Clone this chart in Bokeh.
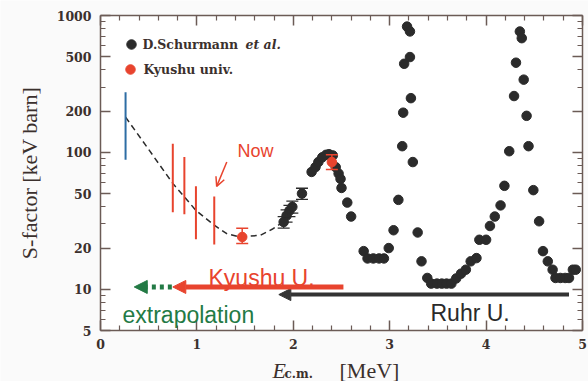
import math
from bokeh.plotting import figure
from bokeh.models import (FixedTicker, LinearAxis, LogAxis, Arrow, NormalHead, OpenHead,
                          Label, Whisker, ColumnDataSource, TeeHead)
from bokeh.embed import file_html
from bokeh.resources import INLINE

# ---------------- data ----------------
sch_E = [1.90, 1.93, 1.96, 1.99, 2.09, 2.19, 2.23, 2.26, 2.30, 2.34, 2.37, 2.41, 2.44, 2.47,
         2.49, 2.50, 2.56, 2.60, 2.73, 2.77, 2.83, 2.89, 2.94, 2.99, 3.04, 3.09, 3.13, 3.14,
         3.15, 3.18, 3.21, 3.21, 3.22, 3.24, 3.29, 3.33, 3.39, 3.43, 3.49, 3.54, 3.59, 3.64,
         3.69, 3.74, 3.79, 3.84, 3.90, 3.93, 4.00, 4.04, 4.09, 4.15, 4.19, 4.24, 4.29, 4.31,
         4.35, 4.37, 4.39, 4.42, 4.44, 4.49, 4.55, 4.59, 4.64, 4.69, 4.72, 4.77, 4.82, 4.86,
         4.90, 4.93]
sch_S = [31, 34.5, 37.5, 40, 50, 72, 78, 85, 92, 96, 97, 95, 78, 70,
         64, 55, 43, 34, 19, 16.8, 16.8, 16.8, 16.8, 20, 27, 45, 111, 195,
         444, 830, 765, 497, 249, 85, 26, 16, 12.1, 11, 11, 11, 11, 11,
         12, 13, 13.9, 16, 16.9, 23, 23, 29, 34, 41, 57, 102, 258, 452,
         764, 683, 340, 185, 111, 53, 31.4, 19, 16, 13.9, 12.1, 12.1, 12.1, 12.1,
         13.9, 13.9]
sch_err_E = [1.90, 1.93, 1.96, 1.99, 2.09]
sch_err_lo = [28, 31, 34, 36, 45.3]
sch_err_hi = [34, 38, 41, 44, 54.7]

ky_E = [1.47, 2.40]
ky_S = [24.1, 85.0]
ky_lo = [21.6, 75.0]
ky_hi = [27.9, 96.0]

blue_E = [0.26]
blue_lo = [88.5]
blue_hi = [275.0]

proj_E = [0.75, 0.87, 0.99, 1.18]
proj_lo = [36.6, 35.3, 23.2, 21.2]
proj_hi = [115.6, 92.4, 56.5, 47.7]

curve_E = [0.26, 0.50, 0.75, 0.99, 1.18, 1.31, 1.45, 1.66, 1.79, 1.88]
curve_S = [181, 105, 59.4, 37.7, 29.4, 25.5, 24.1, 24.8, 27.7, 30.5]

ruhr_E = [4.86, 1.85]
ruhr_S = 9.15
kyu_arrow_E = [2.52, 0.75]
kyu_arrow_S = 10.4
extrap_E = [0.74, 0.35]
extrap_S = 10.4
now_E = [1.31, 1.205]
now_S = [85.0, 56.5]

x_ticks = [0, 1, 2, 3, 4, 5]
x_tick_labels = ["0", "1", "2", "3", "4", "5"]
x_minor = [0.2, 0.4, 0.6, 0.8, 1.2, 1.4, 1.6, 1.8, 2.2, 2.4, 2.6, 2.8,
           3.2, 3.4, 3.6, 3.8, 4.2, 4.4, 4.6, 4.8]
y_ticks = [5, 10, 20, 50, 100, 200, 500, 1000]
y_tick_labels = ["5", "10", "20", "50", "100", "200", "500", "1000"]
y_minor = [6, 7, 8, 9, 30, 40, 60, 70, 80, 90, 300, 400, 600, 700, 800, 900]

X_LO, X_HI = 0, 5
Y_LO, Y_HI = 5, 1000

# ---------------- layout (frame = whole canvas, box drawn with fixed axes) ----------------
W, H = 588, 381
BOX_L, BOX_R, BOX_T, BOX_B = 100, 582, 15, 330
xs = (BOX_R - BOX_L) / (X_HI - X_LO)
x_range = (X_LO - BOX_L / xs, X_HI + (W - BOX_R) / xs)
dec = (BOX_B - BOX_T) / (math.log10(Y_HI) - math.log10(Y_LO))
y_range = (10 ** (math.log10(Y_LO) - (H - BOX_B) / dec), 10 ** (math.log10(Y_HI) + BOX_T / dec))


def dx(px):
    return x_range[0] + px / xs


def dy(py):
    return 10 ** (math.log10(Y_HI) - (py - BOX_T) / dec)


RED = "#e8442e"
BLACK = "#2b2b2b"
BLUE = "#2e6da4"
GREEN = "#237a45"
FRAME = "#6b5b56"
TICKTXT = "#3b302d"

p = figure(width=W, height=H, x_range=x_range, y_range=y_range, y_axis_type="log",
           output_backend="svg", toolbar_location=None, min_border=0,
           background_fill_color="#fafafa", border_fill_color="#fafafa")
p.grid.visible = False
p.outline_line_color = None

xt = FixedTicker(ticks=x_ticks, minor_ticks=x_minor)
yt = FixedTicker(ticks=y_ticks, minor_ticks=y_minor)


def style_axis(ax, ticker, labels, show_labels, standoff, loc, bounds):
    ax.ticker = ticker
    ax.fixed_location = loc
    ax.bounds = bounds
    ax.axis_line_color = FRAME
    ax.axis_line_width = 1.5
    ax.major_tick_in = 10
    ax.major_tick_out = 0
    ax.minor_tick_in = 5
    ax.minor_tick_out = 0
    ax.major_tick_line_color = FRAME
    ax.minor_tick_line_color = FRAME
    ax.major_tick_line_width = 1.5
    ax.minor_tick_line_width = 1.2
    ax.major_label_standoff = standoff
    ax.major_label_overrides = {t: s for t, s in zip(ticker.ticks, labels)}
    ax.major_label_text_font = "DejaVu Serif"
    ax.major_label_text_font_style = "bold"
    ax.major_label_text_font_size = "12.5px"
    ax.major_label_text_color = TICKTXT if show_labels else None


style_axis(p.xaxis[0], xt, x_tick_labels, True, 8, Y_LO, (X_LO, X_HI))
style_axis(p.yaxis[0], yt, y_tick_labels, True, 9, X_LO, (Y_LO, Y_HI))
top = LinearAxis()
style_axis(top, xt, x_tick_labels, False, 0, Y_HI, (X_LO, X_HI))
p.add_layout(top, "above")
right = LogAxis()
style_axis(right, yt, y_tick_labels, False, 0, X_HI, (Y_LO, Y_HI))
p.add_layout(right, "right")

# white plotting area
p.quad(left=[X_LO], right=[X_HI], bottom=[Y_LO], top=[Y_HI], fill_color="white", line_color=None)

# dashed fitted curve
p.line(curve_E, curve_S, line_color=BLACK, line_width=1.5, line_dash="6 4")

# blue and red projected error bars
p.segment(x0=blue_E, y0=blue_lo, x1=blue_E, y1=blue_hi, line_color=BLUE, line_width=2)
p.segment(x0=proj_E, y0=proj_lo, x1=proj_E, y1=proj_hi, line_color=RED, line_width=2)

# Schurmann error bars and points
p.scatter(sch_E, sch_S, size=9.5, fill_color=BLACK, line_color=BLACK)
src_err = ColumnDataSource(dict(base=sch_err_E, lower=sch_err_lo, upper=sch_err_hi))
p.add_layout(Whisker(source=src_err, base="base", lower="lower", upper="upper",
                     line_color=BLACK, line_width=1.3, level="annotation",
                     upper_head=TeeHead(size=12, line_color=BLACK, line_width=1.3),
                     lower_head=TeeHead(size=12, line_color=BLACK, line_width=1.3)))

# Kyushu points
src_ky = ColumnDataSource(dict(base=ky_E, lower=ky_lo, upper=ky_hi))
p.add_layout(Whisker(source=src_ky, base="base", lower="lower", upper="upper",
                     line_color=RED, line_width=1.5, level="overlay",
                     upper_head=TeeHead(size=12, line_color=RED, line_width=1.5),
                     lower_head=TeeHead(size=12, line_color=RED, line_width=1.5)))
p.scatter(ky_E, ky_S, size=9.5, fill_color=RED, line_color=RED)

# legend
p.scatter([dx(131)], [dy(44)], size=9.5, fill_color=BLACK, line_color=BLACK)
p.scatter([dx(130)], [dy(69)], size=9.5, fill_color=RED, line_color=RED)
for txt, px, py, st in [("D.Schurmann", 142, 44, "bold"), ("et al.", 245, 44, "bold italic"),
                        ("Kyushu univ.", 143, 69, "bold")]:
    p.add_layout(Label(x=dx(px), y=dy(py), text=txt, text_font="DejaVu Serif", text_font_style=st,
                       text_font_size="12.5px", text_color=TICKTXT, text_baseline="middle",
                       text_align="left"))

# arrows
p.add_layout(Arrow(x_start=ruhr_E[0], y_start=ruhr_S, x_end=ruhr_E[1], y_end=ruhr_S,
                   line_color="#333333", line_width=4,
                   end=NormalHead(size=12, fill_color="#333333", line_color="#333333")))
p.add_layout(Arrow(x_start=kyu_arrow_E[0], y_start=kyu_arrow_S, x_end=kyu_arrow_E[1], y_end=kyu_arrow_S,
                   line_color=RED, line_width=5,
                   end=NormalHead(size=13, fill_color=RED, line_color=RED)))
p.add_layout(Arrow(x_start=extrap_E[0], y_start=extrap_S, x_end=extrap_E[1], y_end=extrap_S,
                   line_color=GREEN, line_width=5, line_dash="4 4",
                   end=NormalHead(size=13, fill_color=GREEN, line_color=GREEN)))
p.add_layout(Arrow(x_start=now_E[0], y_start=now_S[0], x_end=now_E[1], y_end=now_S[1],
                   line_color=RED, line_width=1.5,
                   end=OpenHead(size=9, line_color=RED, line_width=1.5)))

# annotations (positions in pixels of the reference, converted to data units)
p.add_layout(Label(x=dx(255), y=dy(150), text="Now", text_font="Liberation Sans", text_font_size="18px",
                   text_color=RED, text_align="center", text_baseline="middle"))
for txt, px, py, col in [("Kyushu U.", 208, 277, RED), ("Ruhr U.", 430, 312, "#2a2a2a"),
                         ("extrapolation", 122, 314, GREEN)]:
    p.add_layout(Label(x=dx(px), y=dy(py), text=txt, text_font="Liberation Sans", text_font_size="23px",
                       text_color=col, text_align="left", text_baseline="middle"))

# axis titles
p.add_layout(Label(x=dx(29), y=dy(172.5), text="S-factor [keV barn]", angle=math.pi / 2,
                   text_font="Liberation Serif", text_font_size="22px", text_color=TICKTXT,
                   text_align="center", text_baseline="middle"))
p.add_layout(Label(x=dx(272), y=dy(369.5), text="E", text_font="Liberation Serif", text_font_style="italic",
                   text_font_size="22px", text_color=TICKTXT, text_baseline="middle"))
p.add_layout(Label(x=dx(284), y=dy(373), text="c.m.", text_font="DejaVu Serif", text_font_style="bold",
                   text_font_size="12px", text_color=TICKTXT, text_baseline="middle"))
p.add_layout(Label(x=dx(339), y=dy(369.5), text="[MeV]", text_font="Liberation Serif",
                   text_font_size="22px", text_color=TICKTXT, text_baseline="middle"))

open("out.html", "w").write(file_html(p, INLINE))
